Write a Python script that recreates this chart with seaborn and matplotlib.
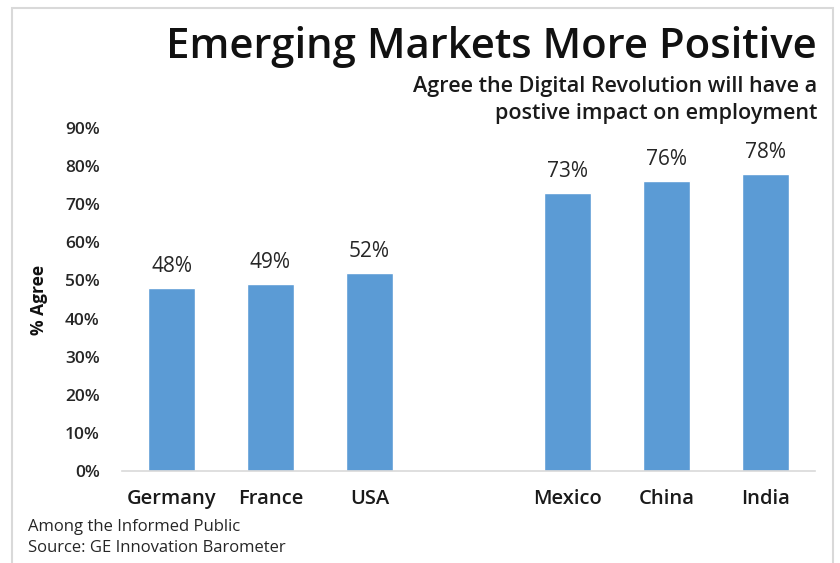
import numpy as np
import pandas as pd
import matplotlib
matplotlib.use("Agg")
import matplotlib.pyplot as plt
import seaborn as sns
from matplotlib.patches import Rectangle

countries = ["Germany", "France", "USA", "", "Mexico", "China", "India"]
agree_pct = [48, 49, 52, np.nan, 73, 76, 78]
y_ticks = [0, 10, 20, 30, 40, 50, 60, 70, 80, 90]

df = pd.DataFrame({"country": countries, "agree": agree_pct})

sns.set_style("white")
plt.rcParams["font.family"] = ["Open Sans", "DejaVu Sans"]

fig = plt.figure(figsize=(8.4, 5.63), dpi=100)
ax = fig.add_axes([122 / 840, 1 - 471 / 563, 693 / 840, 343 / 563])

sns.barplot(data=df, x="country", y="agree", order=countries, color="#5B9BD5",
            saturation=1, width=0.47, ax=ax)

ax.set_ylim(0, 90)
ax.set_yticks(y_ticks)
ax.set_yticklabels([f"{t}%" for t in y_ticks], fontsize=12.5, fontweight="semibold",
                   color="#262626")
ax.set_xticks(range(len(countries)))
ax.set_xticklabels(countries, fontsize=14.5, fontweight="semibold", color="#1a1a1a")
ax.tick_params(axis="y", length=0, pad=16)
ax.tick_params(axis="x", length=0, pad=13)
ax.set_xlabel("")
ax.set_ylabel("% Agree", fontsize=12.5, fontweight="bold", labelpad=12, color="#111111")

for s in ["top", "right", "left"]:
    ax.spines[s].set_visible(False)
ax.spines["bottom"].set_color("#D9D9D9")
ax.spines["bottom"].set_linewidth(1.2)

for c in ax.containers:
    labels = ["" if np.isnan(v) else f"{v:.0f}%" for v in c.datavalues]
    ax.bar_label(c, labels=labels, padding=8, fontsize=15, color="#262626")

fig.text(817 / 840, 1 - 47 / 563, "Emerging Markets More Positive", ha="right",
         va="center", fontsize=30.2, fontweight="semibold", color="#111111")
fig.text(817 / 840, 1 - 86 / 563, "Agree the Digital Revolution will have a", ha="right",
         va="center", fontsize=15.5, fontweight="semibold", color="#1a1a1a")
fig.text(817 / 840, 1 - 114 / 563, "postive impact on employment", ha="right",
         va="center", fontsize=15.5, fontweight="semibold", color="#1a1a1a")

fig.text(28 / 840, 1 - 527 / 563, "Among the Informed Public", ha="left", va="center",
         fontsize=12, color="#262626")
fig.text(28 / 840, 1 - 548 / 563, "Source: GE Innovation Barometer", ha="left", va="center",
         fontsize=12, color="#262626")

# light frame around the chart area
fig.patches.append(Rectangle((12 / 840, -0.1), (833 - 12) / 840, 1.1 - 8 / 563,
                             transform=fig.transFigure, fill=False,
                             edgecolor="#D9D9D9", linewidth=1.5))

fig.savefig("out.png", dpi=100)
